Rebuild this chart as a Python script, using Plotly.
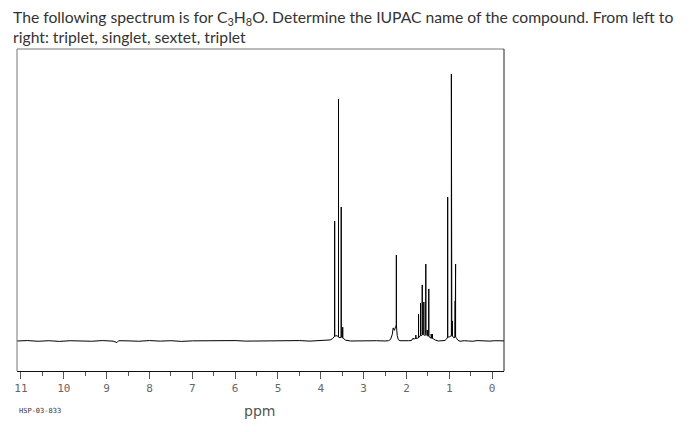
import plotly.graph_objects as go

# 1H NMR spectrum, C3H8O (HSP-03-833), intensities relative to tallest line = 100
# baseline / foot points (ppm, intensity)
BASE_PPM = [11.10, 10.85, 10.60, 10.35, 10.10, 9.85, 9.60, 9.35, 9.10, 8.85, 8.76, 8.72,
            8.50, 8.25, 8.00, 7.75, 7.50, 7.25, 7.00, 6.75, 6.50, 6.25, 6.00, 5.75, 5.50,
            5.25, 5.00, 4.75, 4.50, 4.25, 4.00, 3.85, 3.78, 3.73, 3.70, 3.62, 3.55, 3.46,
            3.42, 3.30, 3.10, 2.90, 2.70, 2.50, 2.42, 2.37, 2.33, 2.31, 2.28, 2.25, 2.215,
            2.19, 2.15, 2.05, 1.95, 1.88, 1.86, 1.81, 1.75, 1.69, 1.65, 1.61, 1.57, 1.53,
            1.50, 1.45, 1.41, 1.37, 1.32, 1.25, 1.17, 1.10, 1.06, 1.00, 0.94, 0.90, 0.83,
            0.80, 0.75, 0.65, 0.55, 0.45, 0.35, 0.25, 0.15, 0.05, -0.05, -0.15, -0.30]
BASE_INT = [0.0, 0.15, -0.1, 0.1, -0.15, 0.1, 0.0, -0.1, 0.15, -0.05, -0.6, 0.1,
            0.05, -0.1, 0.15, -0.05, 0.1, -0.15, 0.05, 0.1, -0.1, 0.05, 0.15, -0.05, 0.0,
            0.1, -0.1, 0.05, 0.15, -0.05, 0.1, 0.1, 0.4, 0.8, 1.5, 2.0, 1.2, 0.8,
            0.3, 0.0, 0.1, -0.05, 0.1, 0.0, 0.1, 0.6, 2.5, 4.9, 4.0, 5.5, 2.0,
            0.5, 0.1, 0.0, 0.1, 0.2, 0.8, 0.8, 1.0, 1.8, 2.0, 2.2, 2.0, 2.2,
            1.8, 1.2, 1.0, 0.8, 0.3, 0.0, 0.1, 0.2, 0.8, 1.5, 1.8, 1.2, 1.0,
            0.3, -0.1, 0.1, 0.0, -0.1, 0.15, 0.0, 0.1, -0.05, 0.1, 0.0, 0.05]

# resolved lines: position, height, level at the foot of the line
PEAK_PPM = [3.676, 3.586, 3.523, 3.488,
            2.235,
            1.840, 1.780, 1.717, 1.671, 1.631, 1.594, 1.548, 1.515, 1.478, 1.423, 1.392, 1.346,
            1.037, 0.951, 0.928, 0.862, 0.852]
PEAK_HEIGHT = [44.9, 90.6, 50.2, 5.2,
               32.2,
               1.1, 2.2, 10.1, 14.2, 21.0, 14.6, 28.8, 4.1, 19.5, 2.6, 2.6, 0.6,
               53.9, 100.0, 7.5, 15.0, 28.8]
PEAK_FOOT = [1.8, 1.5, 1.5, 1.2,
             6.0,
             0.8, 1.0, 1.2, 2.0, 2.5, 2.5, 2.5, 2.0, 2.0, 1.2, 1.0, 0.5,
             1.5, 2.0, 2.0, 1.5, 1.5]

TICK_VALS = list(range(0, 12))
TICK_TEXT = [str(v) for v in TICK_VALS]

TITLE_1 = ("The following spectrum is for C<sub>3</sub>H<sub>8</sub>O. Determine the IUPAC "
           "name of the compound. From left to")
TITLE_2 = "right: triplet, singlet, sextet, triplet"

# ---------------------------------------------------------------------------
# page body has an 8px margin, so the figure sits at (8, 8) in the window
OFF = 8
W, H = 699, 432
L, T = 14 - OFF, 49 - OFF
R, B = W - (504 - OFF), H - (371 - OFF)
PW, PH = W - L - R, H - T - B


def px(x, y):
    """window pixel position -> paper coords"""
    return (x - OFF - L) / PW, (H - B - (y - OFF)) / PH


pts = list(zip(BASE_PPM, BASE_INT))
for p, h, f in zip(PEAK_PPM, PEAK_HEIGHT, PEAK_FOOT):
    pts += [(p, f), (p, h), (p, f)]
pts.sort(key=lambda t: -t[0])

fig = go.Figure(go.Scatter(x=[p[0] for p in pts], y=[p[1] for p in pts], mode="lines",
                           line=dict(color="#000000", width=1), hoverinfo="skip",
                           showlegend=False))

fig.update_xaxes(range=[11.093, -0.278], showgrid=False, zeroline=False,
                 showline=True, linecolor="#111111", linewidth=1,
                 tickmode="array", tickvals=TICK_VALS, ticktext=TICK_TEXT,
                 ticks="outside", ticklen=7, tickcolor="#555555", tickwidth=1,
                 minor=dict(dtick=0.5, tick0=0, ticks="outside", ticklen=4,
                            tickcolor="#555555", tickwidth=1),
                 tickfont=dict(family="DejaVu Sans Mono", size=11, color="#666666"))
fig.update_yaxes(range=[-11.24, 109.36], visible=False)

# frame (left/top lighter, right darker as in the scan)
x0, y0 = px(14, 49)
x1, y1 = px(504, 371)
for (ax, ay, bx, by, c) in [(x0, y1, x0, y0, "#777777"), (x0, y0, x1, y0, "#777777"),
                            (x1, y0, x1, y1, "#222222")]:
    fig.add_shape(type="line", xref="paper", yref="paper", x0=ax, y0=ay, x1=bx, y1=by,
                  line=dict(color=c, width=1))

tx, ty = px(8, 18)
fig.add_annotation(text=TITLE_1, xref="paper", yref="paper", x=tx, y=ty, xanchor="left",
                   yanchor="middle", showarrow=False,
                   font=dict(family="Lato", size=15.7, color="#333333"))
tx, ty = px(8, 37)
fig.add_annotation(text=TITLE_2, xref="paper", yref="paper", x=tx, y=ty, xanchor="left",
                   yanchor="middle", showarrow=False,
                   font=dict(family="Lato", size=15.7, color="#333333"))
tx, ty = px(258, 411)
fig.add_annotation(text="ppm", xref="paper", yref="paper", x=tx, y=ty, xanchor="center",
                   yanchor="middle", showarrow=False,
                   font=dict(family="DejaVu Sans", size=14, color="#555555"))
tx, ty = px(14, 411)
fig.add_annotation(text="HSP-03-833", xref="paper", yref="paper", x=tx, y=ty, xanchor="left",
                   yanchor="middle", showarrow=False,
                   font=dict(family="DejaVu Sans Mono", size=7, color="#333333"))

fig.update_layout(width=W, height=H, margin=dict(l=L, r=R, t=T, b=B),
                  plot_bgcolor="white", paper_bgcolor="white")

fig.write_html("out.html")
